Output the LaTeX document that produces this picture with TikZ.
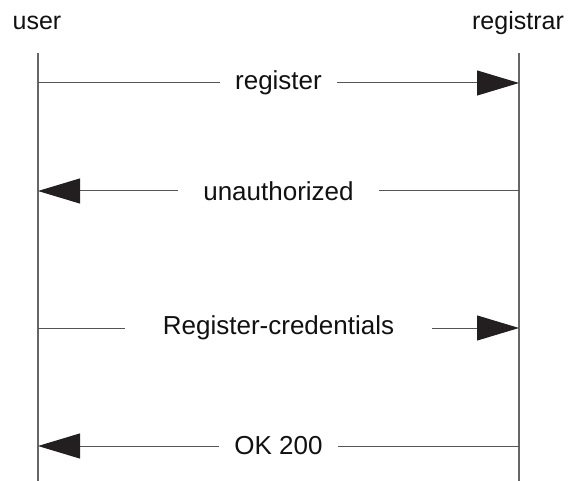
\documentclass[tikz,border=0pt]{standalone}
\usepackage{fontspec}
\setmainfont{Liberation Sans}
\usepackage{xcolor}
\usepackage{tikz}
\usetikzlibrary{arrows.meta,positioning}
\definecolor{mscInk}{HTML}{111111}
\definecolor{mscTip}{HTML}{231F20}
\definecolor{mscLife}{HTML}{666666}
\definecolor{mscLine}{HTML}{555555}
\tikzset{
  msc diagram/.style={text=mscInk, x=1pt, y=-1pt},
  msc title/.style={font=\fontsize{25}{30}\selectfont, anchor=base, inner sep=0pt},
  msc lifeline/.style={draw=mscLife, line width=1.6pt},
  msc arrow/.style={-{Triangle[length=42pt,width=25pt,color=mscTip]},
    draw=mscLine, line width=1pt},
  msc label/.style={font=\fontsize{26}{30}\selectfont, fill=white,
    inner ysep=4pt}
}
\begin{document}
\begin{tikzpicture}[msc diagram]
\useasboundingbox (0,0) rectangle (568,481);
% parties
\node[msc title] (user) at (37,30) {user};
\node[msc title] (registrar) at (518,30) {registrar};
\coordinate (uTop) at (38,53);
\coordinate (uBot) at (38,481);
\coordinate (rTop) at (519,53);
\coordinate (rBot) at (519,481);
\draw[msc lifeline] (uTop) -- (uBot);
\draw[msc lifeline] (rTop) -- (rBot);
% message ends on the lifelines
\coordinate (u1) at (38,83);  \coordinate (r1) at (519,83);
\coordinate (u2) at (38,191); \coordinate (r2) at (519,191);
\coordinate (u3) at (38,328); \coordinate (r3) at (519,328);
\coordinate (u4) at (38,446); \coordinate (r4) at (519,446);
% messages
\draw[msc arrow] (u1) -- node[msc label,inner xsep=15pt] {register} (r1);
\draw[msc arrow] (r2) -- node[msc label,inner xsep=25pt] {unauthorized} (u2);
\draw[msc arrow] (u3) -- node[msc label,inner xsep=38pt] {Register-credentials} (r3);
\draw[msc arrow] (r4) -- node[msc label,inner xsep=15pt] {OK 200} (u4);
\end{tikzpicture}
\end{document}
